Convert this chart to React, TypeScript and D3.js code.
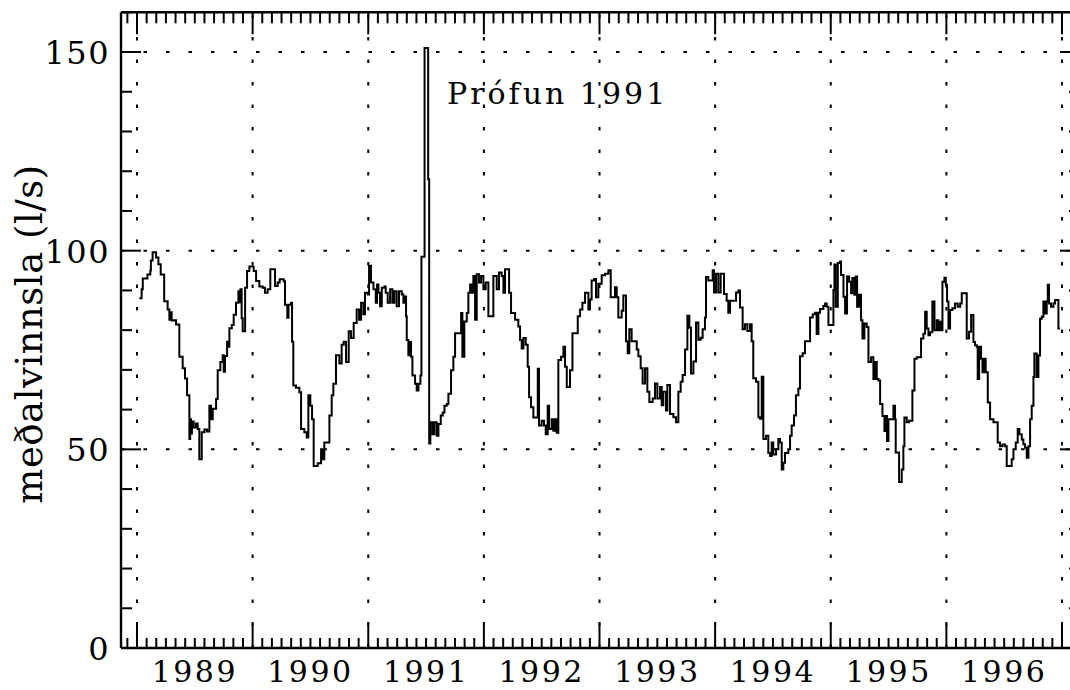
import React from 'react';
import * as d3 from 'd3';

const W = 1070;
const H = 690;

const yearLabels = [1989, 1990, 1991, 1992, 1993, 1994, 1995, 1996];
const gridYears = [1989, 1990, 1991, 1992, 1993, 1994, 1995, 1996, 1997];
const yTickLabels = [0, 50, 100, 150];
const yGridValues = [50, 100, 150];
const yTitle = 'meðalvinnsla (l/s)';
const noteText = 'Prófun 1991';

type P = [number, number];

const d1989: P[] = [
  [1989.02, 88], [1989.04, 90.3], [1989.05, 93], [1989.09, 94], [1989.115, 95], [1989.12, 97.5],
  [1989.135, 99.6], [1989.165, 98.3], [1989.185, 96.6], [1989.205, 94], [1989.235, 87.3],
  [1989.265, 85.2], [1989.28, 82.6], [1989.29, 84.5], [1989.3, 82.4], [1989.32, 82.5],
  [1989.338, 81.4], [1989.366, 73.3], [1989.395, 70.4], [1989.415, 67.8], [1989.433, 63.6],
  [1989.453, 52.6], [1989.46, 57.6], [1989.467, 54], [1989.475, 57], [1989.49, 55.5],
  [1989.51, 56.5], [1989.525, 55.1], [1989.539, 47.5], [1989.56, 54.3], [1989.583, 55],
  [1989.606, 54.5], [1989.626, 61], [1989.64, 57.6], [1989.655, 60.2], [1989.684, 62.7],
  [1989.698, 69.9], [1989.721, 72], [1989.741, 73.7], [1989.75, 69.5], [1989.761, 73.5],
  [1989.779, 77.1], [1989.79, 75.8], [1989.799, 80.5], [1989.82, 81.3], [1989.836, 83.9],
  [1989.856, 86.9], [1989.877, 89.8], [1989.885, 87], [1989.894, 90.3], [1989.905, 83],
  [1989.914, 79.7], [1989.935, 90.7], [1989.952, 94.9], [1989.972, 96],
];

const d1990: P[] = [
  [1990.009, 94.9], [1990.03, 92.4], [1990.058, 91], [1990.087, 90.7], [1990.107, 89.4],
  [1990.13, 90.3], [1990.153, 95.3], [1990.194, 91.1], [1990.217, 92], [1990.234, 92.8],
  [1990.269, 92.3], [1990.28, 86.4], [1990.3, 83.1], [1990.31, 86.4], [1990.332, 86.9],
  [1990.341, 77.1], [1990.352, 66.1], [1990.375, 65.5], [1990.404, 64.4], [1990.419, 55.1],
  [1990.447, 54.3], [1990.468, 53], [1990.482, 63.6], [1990.499, 61], [1990.514, 57.6],
  [1990.528, 45.8], [1990.563, 46.5], [1990.592, 50], [1990.606, 47.5], [1990.62, 51.7],
  [1990.664, 58.5], [1990.684, 63.6], [1990.698, 66.5], [1990.721, 73.7], [1990.75, 71.6],
  [1990.77, 76.3], [1990.788, 77.1], [1990.808, 72], [1990.831, 79.7], [1990.851, 78],
  [1990.874, 81.8],
];

const d1991: P[] = [
  [1990.9, 85.2], [1990.921, 82.6], [1990.938, 86.9], [1990.958, 84], [1990.972, 89.4],
  [1990.996, 89], [1991.007, 96.2], [1991.024, 92], [1991.045, 90.3], [1991.065, 86.9],
  [1991.076, 91.5], [1991.088, 89.4], [1991.102, 86], [1991.117, 90.7], [1991.14, 91],
  [1991.151, 89.4], [1991.168, 86.9], [1991.189, 90.3], [1991.209, 86.9], [1991.226, 89.8],
  [1991.246, 86], [1991.266, 89.8], [1991.29, 89], [1991.304, 86.9], [1991.318, 88.5],
  [1991.327, 83.5], [1991.333, 77.5], [1991.347, 73.7], [1991.356, 77], [1991.37, 73.3],
  [1991.382, 68.6], [1991.405, 66.5], [1991.419, 64.8], [1991.434, 66.5], [1991.451, 68.6],
  [1991.46, 98.5], [1991.487, 151], [1991.518, 118], [1991.527, 51.5], [1991.537, 56.8],
  [1991.555, 53.8], [1991.572, 56.8], [1991.592, 53.4], [1991.607, 56.4], [1991.627, 58.5],
  [1991.644, 59.3], [1991.659, 61], [1991.679, 61.4], [1991.693, 64], [1991.716, 69.9],
  [1991.736, 73.3], [1991.751, 79.2], [1991.803, 84.3], [1991.814, 73.3], [1991.831, 82.2],
  [1991.852, 84.3], [1991.866, 89.4], [1991.881, 91.5], [1991.895, 89.4], [1991.909, 93.6],
  [1991.924, 82.6], [1991.938, 94.1], [1991.958, 92], [1991.976, 93.6],
];

const d1992: P[] = [
  [1991.996, 90.3], [1992.016, 92], [1992.039, 83.5], [1992.082, 93.6], [1992.111, 90.3],
  [1992.131, 94.5], [1992.154, 93.6], [1992.169, 89.4], [1992.183, 95.3], [1992.218, 89.4],
  [1992.235, 84.3], [1992.27, 82.6], [1992.298, 80.9], [1992.313, 77.5], [1992.327, 75.4],
  [1992.342, 78], [1992.362, 76.3], [1992.379, 70.8], [1992.391, 63.1], [1992.408, 60.6],
  [1992.428, 58], [1992.466, 70.3], [1992.477, 56], [1992.5, 57.2], [1992.52, 56],
  [1992.535, 53.8], [1992.552, 61], [1992.564, 55.1], [1992.587, 57.6], [1992.601, 54.7],
  [1992.616, 57.6], [1992.63, 54.2], [1992.644, 72.5], [1992.668, 73.3], [1992.688, 75.8],
  [1992.702, 70.8], [1992.717, 65.7], [1992.745, 69.9], [1992.766, 79.2], [1992.812, 83.5],
  [1992.832, 85.2], [1992.852, 86.9], [1992.875, 89.4], [1992.904, 85.2], [1992.918, 87.7],
];

const d1993: P[] = [
  [1992.932, 92.5], [1992.953, 92.9], [1992.97, 88.3], [1992.99, 91.7], [1993.019, 93.8],
  [1993.048, 94.2], [1993.077, 95.1], [1993.097, 88.3], [1993.134, 90.8], [1993.149, 88.3],
  [1993.163, 83.2], [1993.192, 84.9], [1993.206, 88.7], [1993.229, 77.2], [1993.244, 74.2],
  [1993.258, 80.2], [1993.278, 77.2], [1993.322, 75.1], [1993.336, 73.4], [1993.356, 70.4],
  [1993.373, 66.6], [1993.394, 70.4], [1993.414, 64.5], [1993.431, 61.9], [1993.46, 62.8],
  [1993.48, 66.6], [1993.5, 62.8], [1993.523, 65.7], [1993.538, 61.1], [1993.552, 64.5],
  [1993.575, 59.8], [1993.587, 66.2], [1993.61, 58.9], [1993.639, 58.1], [1993.662, 56.8],
  [1993.682, 64.5], [1993.702, 67], [1993.719, 68.7], [1993.74, 75.1], [1993.76, 83.6],
  [1993.777, 80.6], [1993.791, 69.1], [1993.812, 72.1], [1993.835, 81.9], [1993.855, 77.6],
  [1993.875, 78.1], [1993.892, 80.2], [1993.912, 83.2], [1993.921, 93.4], [1993.941, 92.5],
  [1993.979, 95.1],
];

const d1994: P[] = [
  [1993.99, 89.5], [1994.008, 94.2], [1994.028, 89.5], [1994.048, 94.2], [1994.077, 89.1],
  [1994.1, 87.4], [1994.114, 84.4], [1994.129, 87.4], [1994.181, 89.5], [1994.201, 90],
  [1994.215, 85.7], [1994.238, 80.2], [1994.258, 81.5], [1994.279, 79.8], [1994.302, 81.5],
  [1994.316, 77.2], [1994.33, 67.9], [1994.354, 67], [1994.374, 58.1], [1994.388, 57.7],
  [1994.403, 68.3], [1994.417, 52.6], [1994.44, 53.4], [1994.46, 49.1], [1994.475, 48.3],
  [1994.489, 51.7], [1994.503, 48.7], [1994.527, 50], [1994.547, 52.6], [1994.561, 51.7],
  [1994.576, 44.9], [1994.59, 46.6], [1994.604, 49.1], [1994.633, 50], [1994.648, 53.4],
  [1994.662, 56], [1994.682, 58.5], [1994.699, 63.6], [1994.72, 65.3], [1994.734, 73.4],
  [1994.757, 74.2], [1994.777, 77.2], [1994.821, 83.2], [1994.844, 84], [1994.864, 84.4],
  [1994.878, 79], [1994.893, 84.4], [1994.907, 85.3], [1994.936, 86.1],
];

const d1995: P[] = [
  [1994.951, 86.7], [1994.965, 85.9], [1994.98, 81.3], [1995.023, 90.1], [1995.032, 96.5],
  [1995.043, 85.9], [1995.061, 96.9], [1995.081, 97.3], [1995.089, 93.9], [1995.11, 88.4],
  [1995.124, 84.2], [1995.141, 93.5], [1995.159, 92.2], [1995.176, 89.3], [1995.187, 93.1],
  [1995.205, 88.9], [1995.216, 93.5], [1995.228, 85.9], [1995.245, 88.9], [1995.262, 82.5],
  [1995.274, 77.9], [1995.291, 81.7], [1995.311, 80.8], [1995.326, 72], [1995.349, 73.2],
  [1995.369, 67.7], [1995.383, 72], [1995.398, 67.7], [1995.412, 67.3], [1995.427, 61.4],
  [1995.447, 58.4], [1995.464, 54.6], [1995.476, 58.4], [1995.487, 52.1], [1995.499, 57.6],
  [1995.542, 61], [1995.556, 57.6], [1995.562, 49.2], [1995.591, 41.8], [1995.614, 44.9],
  [1995.628, 50.8], [1995.637, 58], [1995.657, 56.8], [1995.677, 57.2], [1995.706, 64.8],
  [1995.724, 72.8], [1995.744, 73.2], [1995.781, 77.9], [1995.801, 79.1], [1995.816, 84.6],
  [1995.83, 80.4], [1995.845, 78.7], [1995.859, 79.5], [1995.879, 87.2], [1995.897, 80],
  [1995.917, 82.5], [1995.931, 80], [1995.946, 82.1], [1995.96, 80], [1995.966, 92.2],
  [1995.983, 93.2], [1995.995, 91.4],
];

const d1996: P[] = [
  [1996.006, 87.2], [1996.018, 80.4], [1996.032, 85.1], [1996.052, 85.5], [1996.075, 86.7],
  [1996.098, 85.9], [1996.119, 86.7], [1996.133, 89.3], [1996.176, 77.9], [1996.196, 79.6],
  [1996.214, 83.8], [1996.234, 77], [1996.248, 76.2], [1996.263, 75.8], [1996.271, 67.7],
  [1996.283, 75.8], [1996.3, 72.8], [1996.312, 69.4], [1996.329, 72.8], [1996.34, 69.4],
  [1996.358, 61.8], [1996.378, 57.6], [1996.407, 56.8], [1996.444, 51.7], [1996.464, 50.8],
  [1996.485, 51.2], [1996.508, 50.8], [1996.522, 45.8], [1996.565, 47.5], [1996.58, 50],
  [1996.6, 51.7], [1996.617, 55.1], [1996.632, 53.8], [1996.652, 52.5], [1996.666, 51.3],
  [1996.681, 50.4], [1996.695, 47.9], [1996.71, 50.8], [1996.724, 57.6], [1996.738, 61],
  [1996.753, 68.2], [1996.761, 74.1], [1996.781, 68.2], [1996.796, 73.6], [1996.81, 82.9],
  [1996.825, 83.4], [1996.839, 87.2], [1996.853, 84.2], [1996.868, 87.2], [1996.877, 91.4],
  [1996.888, 86.7], [1996.905, 85.9], [1996.926, 86.7], [1996.94, 87.6], [1996.969, 80.4],
  [1996.983, 80.4],
];

const FONT = '"DejaVu Serif", serif';

export default function App() {
  const x = d3.scaleLinear().domain([1988.8616, 1997.1557]).range([121, 1080]);
  const y = d3.scaleLinear().domain([0, 160]).range([648, 12.3]);
  const data: P[] = [...d1989, ...d1990, ...d1991, ...d1992, ...d1993, ...d1994, ...d1995, ...d1996];
  const line = d3
    .line<P>()
    .x((d) => x(d[0]))
    .y((d) => y(d[1]))
    .curve(d3.curveStepAfter);

  const [x0, x1] = x.range();
  const [yb, yt] = y.range();
  const months = d3
    .range(1988 * 12, 1998 * 12)
    .map((m) => ({ t: m / 12, major: m % 12 === 0 }))
    .filter((d) => d.t > x.domain()[0] + 0.01 && d.t < x.domain()[1]);
  const yMinor = d3.range(0, 161, 10);

  return (
    <svg
      width={W}
      height={H}
      viewBox={`0 0 ${W} ${H}`}
      style={{ position: 'absolute', left: 0, top: 0, background: '#fff' }}
    >
      <rect x={0} y={0} width={W} height={H} fill="#fff" />
      {/* grid */}
      <g stroke="#000" strokeWidth={2} strokeDasharray="3.5 19">
        {yGridValues.map((v) => (
          <line key={'hg' + v} x1={x0} x2={x1} y1={y(v)} y2={y(v)} />
        ))}
        {gridYears.map((g) => (
          <line key={'vg' + g} x1={x(g)} x2={x(g)} y1={yb} y2={yt} />
        ))}
      </g>
      {/* data */}
      <path d={line(data) || ''} fill="none" stroke="#000" strokeWidth={2} strokeLinejoin="miter" />
      {/* frame */}
      <g stroke="#000" strokeWidth={2.4} fill="none">
        <line x1={x0} x2={x1} y1={yb} y2={yb} />
        <line x1={x0} x2={x1} y1={yt} y2={yt} />
        <line x1={x0} x2={x0} y1={yt} y2={yb} />
        <line x1={x1} x2={x1} y1={yt} y2={yb} />
      </g>
      {/* ticks */}
      <g stroke="#000" strokeWidth={2}>
        {months.map((m, i) => (
          <g key={'mt' + i}>
            <line x1={x(m.t)} x2={x(m.t)} y1={yb} y2={yb - (m.major ? 25 : 10)} />
            <line x1={x(m.t)} x2={x(m.t)} y1={yt} y2={yt + (m.major ? 22 : 11)} />
          </g>
        ))}
        {yMinor.map((v) => (
          <g key={'yt' + v}>
            <line x1={x0} x2={x0 + (v % 50 === 0 ? 20 : 11)} y1={y(v)} y2={y(v)} />
            <line x1={x1} x2={x1 - (v % 50 === 0 ? 20 : 11)} y1={y(v)} y2={y(v)} />
          </g>
        ))}
      </g>
      {/* labels */}
      <g fontFamily={FONT} fill="#000">
        {yTickLabels.map((v) => (
          <text key={'yl' + v} x={110} y={y(v) + 12} fontSize={32} textAnchor="end" letterSpacing={1.5}>
            {v}
          </text>
        ))}
        {yearLabels.map((yr) => (
          <text key={'xl' + yr} x={x(yr + 0.5)} y={682} fontSize={30} textAnchor="middle" letterSpacing={2.5}>
            {yr}
          </text>
        ))}
      </g>
      <text
        fontFamily={FONT}
        fontSize={37}
        letterSpacing={0.5}
        textAnchor="middle"
        transform={`translate(42, 334) rotate(-90)`}
      >
        {yTitle}
      </text>
      <text fontFamily={FONT} fontSize={30} letterSpacing={3} x={447} y={104}>
        {noteText}
      </text>
    </svg>
  );
}
